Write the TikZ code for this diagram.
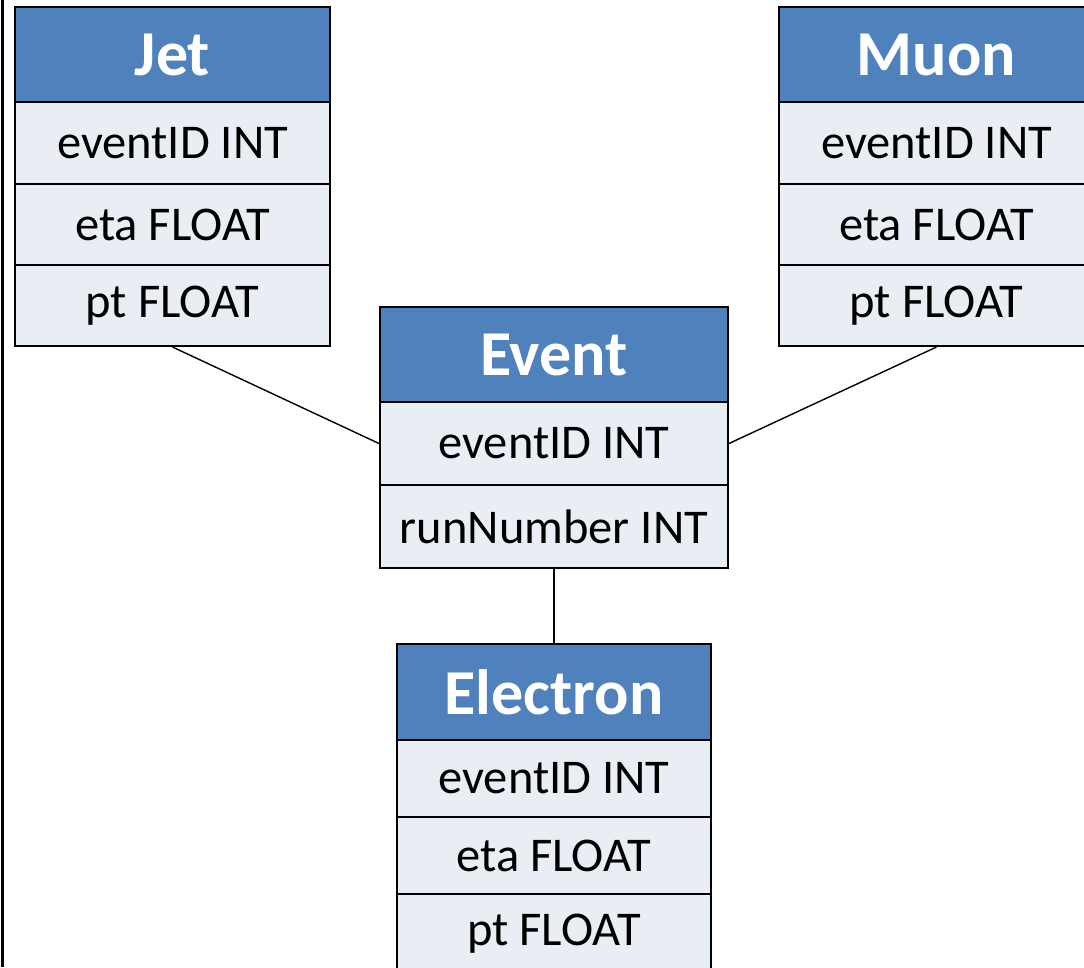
\documentclass[tikz,border=0pt]{standalone}
\usepackage{fontspec}
\setmainfont{Carlito}
\definecolor{hdrblue}{HTML}{4F81BD}
\definecolor{rowfill}{HTML}{E9EDF4}
\begin{document}
\begin{tikzpicture}[x=1pt,y=-1pt,
  hdr/.style={draw=black,line width=2pt,fill=hdrblue,text=white,font=\fontsize{64}{64}\selectfont\bfseries,inner sep=0pt,anchor=north west},
  fld/.style={draw=black,line width=2pt,fill=rowfill,text=black,font=\fontsize{48.5}{48.5}\selectfont,inner sep=0pt,anchor=north west},
  link/.style={draw=black,line width=1.4pt}]
\useasboundingbox (0,0) rectangle (1084,967);
\begin{scope}
\clip (0,0) rectangle (1084,967);
% Jet
\node[hdr,minimum width=315pt,minimum height=95pt] (jet) at (14,6) {Jet};
\node[fld,minimum width=315pt,minimum height=82pt] (jet1) at (14,101) {eventID INT};
\node[fld,minimum width=315pt,minimum height=81pt] (jet2) at (14,183) {eta FLOAT};
\node[fld,minimum width=315pt,minimum height=81pt] (jet3) at (14,264) {pt FLOAT};
% Muon
\node[hdr,minimum width=315pt,minimum height=95pt] (muon) at (778,6) {Muon};
\node[fld,minimum width=315pt,minimum height=82pt] (muon1) at (778,101) {eventID INT};
\node[fld,minimum width=315pt,minimum height=81pt] (muon2) at (778,183) {eta FLOAT};
\node[fld,minimum width=315pt,minimum height=81pt] (muon3) at (778,264) {pt FLOAT};
% Event
\node[hdr,minimum width=348pt,minimum height=95pt] (event) at (379,306) {Event};
\node[fld,minimum width=348pt,minimum height=83pt] (event1) at (379,401) {eventID INT};
\node[fld,minimum width=348pt,minimum height=83pt] (event2) at (379,484) {runNumber INT};
% Electron
\node[hdr,minimum width=314pt,minimum height=96pt] (el) at (396,643) {Electron};
\node[fld,minimum width=314pt,minimum height=77pt] (el1) at (396,739) {eventID INT};
\node[fld,minimum width=314pt,minimum height=77pt] (el2) at (396,816) {eta FLOAT};
\node[fld,minimum width=314pt,minimum height=80pt] (el3) at (396,893) {pt FLOAT};
% connectors
\draw[link] (jet3.south) -- (event1.west);
\draw[link] (muon3.south) -- (event1.east);
\draw[link] (event2.south) -- (el.north);
% left edge line
\coordinate (lt) at (2.5,0);
\coordinate (lb) at (2.5,967);
\draw[line width=3pt] (lt) -- (lb);
\end{scope}
\end{tikzpicture}
\end{document}
